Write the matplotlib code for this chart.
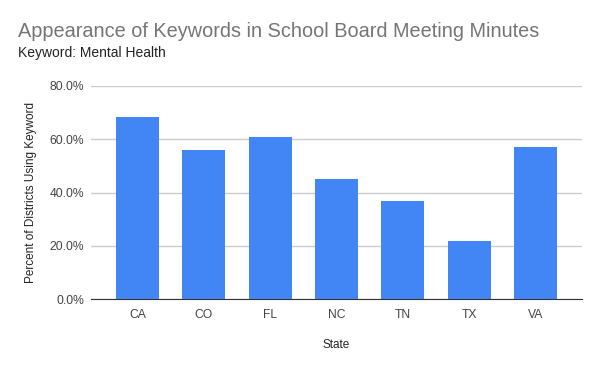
import matplotlib.pyplot as plt
from matplotlib.ticker import FuncFormatter

plt.rcParams['font.family'] = ['Liberation Sans', 'DejaVu Sans']

# Anteil der Bezirke, die das Stichwort verwenden
states = ['CA', 'CO', 'FL', 'NC', 'TN', 'TX', 'VA']
percent = [0.683, 0.560, 0.608, 0.451, 0.368, 0.219, 0.571]

fig = plt.figure(figsize=(6, 3.71), dpi=100)
ax = fig.add_axes([0.1517, 0.1933, 0.8183, 0.575])

ax.bar(range(len(states)), percent, width=0.65, color='#4285F4', zorder=3)

ax.set_xlim(-0.7, 6.7)
ax.set_ylim(0, 0.8)
ax.set_yticks([0, 0.2, 0.4, 0.6, 0.8])
ax.yaxis.set_major_formatter(FuncFormatter(lambda v, p: f'{v*100:.1f}%'))
ax.set_xticks(range(len(states)))
ax.set_xticklabels(states)

ax.grid(axis='y', color='#cccccc', linewidth=1, zorder=0)
for s in ['top', 'right', 'left']:
    ax.spines[s].set_visible(False)
ax.spines['bottom'].set_color('#333333')
ax.tick_params(axis='both', length=0, labelsize=8.7, colors='#444444')
ax.tick_params(axis='y', pad=5)
ax.tick_params(axis='x', pad=7)

ax.set_xlabel('State', fontsize=8.5, color='#222222', labelpad=13)
ax.set_ylabel('Percent of Districts Using Keyword', fontsize=8.5, color='#222222', labelpad=9)

fig.text(0.03, 0.915, 'Appearance of Keywords in School Board Meeting Minutes',
         fontsize=14.3, color='#757575', va='center')
fig.text(0.03, 0.857, 'Keyword: Mental Health', fontsize=10, color='#222222', va='center')

plt.savefig('out.png', dpi=100)
